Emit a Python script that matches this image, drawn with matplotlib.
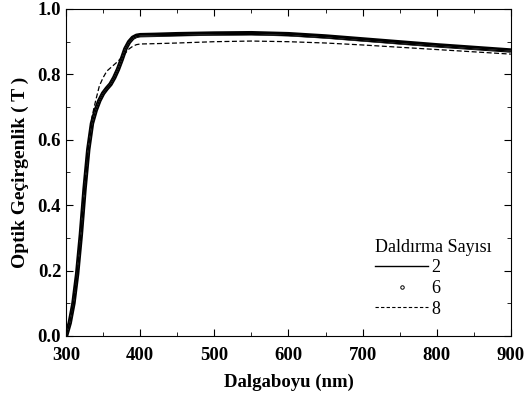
import matplotlib
matplotlib.use("Agg")
import matplotlib.pyplot as plt
from matplotlib.lines import Line2D
from matplotlib.ticker import MultipleLocator

plt.rcParams['font.family'] = ['Liberation Serif', 'DejaVu Serif']

# dalga boyu (nm)
wl = [300, 305, 310, 315, 320, 325, 330, 335, 340, 345, 350, 355, 360, 365, 370, 375,
      380, 385, 390, 395, 400, 420, 450, 500, 550, 600, 650, 700, 750, 800, 850, 900]

# daldirma sayisi 2
t2 = [0.00, 0.04, 0.10, 0.19, 0.31, 0.45, 0.57, 0.65, 0.69, 0.72, 0.742, 0.757, 0.77, 0.79, 0.815, 0.845,
      0.878, 0.898, 0.91, 0.915, 0.917, 0.918, 0.919, 0.921, 0.922, 0.919, 0.912, 0.903, 0.894, 0.886, 0.878, 0.871]

# daldirma sayisi 6
t6 = [0.00, 0.04, 0.10, 0.19, 0.31, 0.45, 0.57, 0.65, 0.69, 0.72, 0.742, 0.757, 0.77, 0.79, 0.815, 0.845,
      0.878, 0.899, 0.912, 0.918, 0.92, 0.921, 0.923, 0.925, 0.926, 0.923, 0.916, 0.907, 0.898, 0.889, 0.881, 0.873]

# daldirma sayisi 8
t8 = [0.00, 0.04, 0.10, 0.19, 0.31, 0.45, 0.58, 0.67, 0.72, 0.765, 0.79, 0.81, 0.82, 0.83, 0.84, 0.852,
      0.865, 0.878, 0.886, 0.891, 0.893, 0.894, 0.896, 0.9, 0.902, 0.9, 0.896, 0.89, 0.883, 0.876, 0.869, 0.862]

fig = plt.figure(figsize=(5.24, 4.0), dpi=100)
ax = fig.add_axes([0.126, 0.16, 0.849, 0.8175])

ax.plot(wl, t6, color='black', lw=3.2, solid_capstyle='butt')
ax.plot(wl, t2, color='white', lw=0.6)
ax.plot(wl, t2, color='black', lw=1.0)
ax.plot(wl, t8, color='black', lw=0.9, ls=(0, (4, 2)))

ax.set_xlim(300, 900)
ax.set_ylim(0, 1.0)
ax.xaxis.set_major_locator(MultipleLocator(100))
ax.xaxis.set_minor_locator(MultipleLocator(50))
ax.yaxis.set_major_locator(MultipleLocator(0.2))
ax.yaxis.set_minor_locator(MultipleLocator(0.1))
ax.tick_params(which='both', direction='in', top=True, right=True, labelsize=13.5)
ax.tick_params(which='major', length=5)
ax.tick_params(which='minor', length=3)
ax.tick_params(axis='x', which='major', pad=8)
for lab in ax.get_xticklabels() + ax.get_yticklabels():
    lab.set_fontweight('bold')

ax.set_xlabel("Dalgaboyu (nm)", fontsize=13.5, fontweight='bold', labelpad=7)
ax.set_ylabel("Optik Geçirgenlik ( T )", fontsize=14, fontweight='bold', labelpad=6)

handles = [
    Line2D([], [], color='black', lw=1.0),
    Line2D([], [], color='black', ls='none', marker='o', ms=2.5, mfc='white', mew=0.7),
    Line2D([], [], color='black', lw=0.8, ls=(0, (3, 2))),
]
ax.legend(handles, ['2', '6', '8'], title="Daldırma Sayısı", loc='upper left',
          bbox_to_anchor=(0.675, 0.325), frameon=False, fontsize=13, title_fontsize=13,
          handlelength=2.9, handletextpad=0.2, labelspacing=0.2, borderpad=0,
          alignment='left')

fig.savefig("out.png", dpi=100)
